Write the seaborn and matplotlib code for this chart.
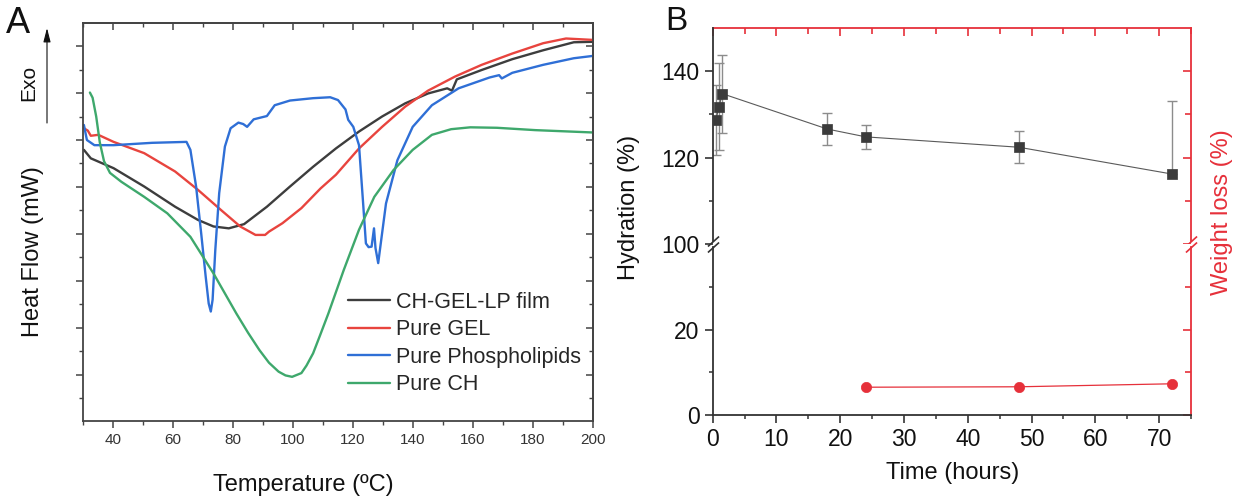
#!/usr/bin/env python3
import numpy as np
import pandas as pd
import matplotlib
matplotlib.use("Agg")
from matplotlib import pyplot as plt
from matplotlib import transforms
from matplotlib.lines import Line2D
from matplotlib.ticker import MultipleLocator
import seaborn as sns

# panel A : DSC traces (heat flow in arbitrary units, one unit per y tick)
film_T = [30.3, 32.6, 40.2, 50.4, 60.7, 68.3, 73.5, 78.6, 83.7, 91.3, 99.0, 106.7, 114.3,
          122.0, 129.7, 137.4, 145.0, 151.4, 153.0, 154.6, 162.9, 173.1, 183.4, 193.6, 200.0]
film_hf = [4.79, 4.61, 4.40, 4.01, 3.58, 3.30, 3.16, 3.12, 3.21, 3.58, 4.01, 4.43, 4.82,
           5.18, 5.50, 5.78, 5.99, 6.10, 6.05, 6.29, 6.49, 6.72, 6.91, 7.08, 7.09]

gel_T = [30.3, 31.6, 32.6, 35.1, 40.2, 50.4, 60.7, 68.3, 76.0, 82.4, 87.5, 90.7, 92.0, 96.5,
         102.8, 109.2, 114.3, 122.0, 129.7, 137.4, 145.0, 154.0, 162.9, 173.1, 183.4, 191.0, 200.0]
gel_hf = [5.25, 5.20, 5.09, 5.11, 4.96, 4.72, 4.33, 3.94, 3.51, 3.16, 2.98, 2.98, 3.05, 3.23,
          3.55, 3.97, 4.26, 4.82, 5.28, 5.71, 6.05, 6.35, 6.60, 6.84, 7.06, 7.16, 7.13]

pl_T = [30.3, 31.3, 33.8, 40.2, 53.0, 64.5, 65.8, 67.7, 69.4, 70.9, 71.9, 72.6, 73.2, 74.1,
        75.4, 77.3, 79.2, 81.8, 83.4, 84.7, 86.9, 89.4, 91.3, 93.9, 99.0, 106.7, 112.4, 115.0,
        117.5, 118.4, 120.1, 122.0, 123.3, 124.3, 125.2, 126.2, 127.0, 127.5, 128.4, 129.4,
        131.0, 134.8, 139.9, 146.3, 155.2, 165.5, 168.7, 169.6, 173.1, 183.4, 193.6, 200.0]
pl_hf = [5.32, 5.00, 4.89, 4.89, 4.94, 4.96, 4.79, 4.01, 3.01, 2.09, 1.52, 1.35, 1.60, 2.66,
         3.87, 4.86, 5.25, 5.37, 5.34, 5.28, 5.44, 5.48, 5.51, 5.74, 5.84, 5.89, 5.91, 5.85,
         5.65, 5.43, 5.28, 4.89, 3.72, 2.80, 2.72, 2.73, 3.12, 2.70, 2.38, 2.87,
         3.65, 4.57, 5.28, 5.74, 6.10, 6.33, 6.38, 6.31, 6.43, 6.60, 6.74, 6.79]

ch_T = [32.3, 33.2, 34.4, 35.6, 37.0, 39.0, 42.8, 50.4, 58.1, 65.8, 73.5, 81.1, 85.0, 88.8,
        92.0, 95.2, 97.5, 99.7, 102.8, 104.5, 106.7, 109.0, 111.8, 116.9, 122.0, 127.1, 133.5,
        139.9, 146.3, 152.7, 159.1, 168.0, 180.8, 200.0]
ch_hf = [6.01, 5.90, 5.50, 4.95, 4.55, 4.30, 4.11, 3.79, 3.44, 2.94, 2.16, 1.31, 0.90, 0.53,
         0.26, 0.07, -0.01, -0.04, 0.04, 0.20, 0.46, 0.84, 1.31, 2.23, 3.09, 3.79, 4.36,
         4.79, 5.11, 5.23, 5.27, 5.26, 5.21, 5.16]

samples = ["CH-GEL-LP film", "Pure GEL", "Pure Phospholipids", "Pure CH"]
sample_colors = ["#3d3d3d", "#e8443e", "#2f6fd6", "#3ea86c"]

# panel B : hydration and weight loss vs time
hyd_t = [0.5, 1, 1.5, 18, 24, 48, 72]
hyd = [128.7, 131.8, 134.8, 126.6, 124.8, 122.4, 116.2]
hyd_err_lo = [8.2, 10.0, 9.0, 3.7, 2.8, 3.7, 0.0]
hyd_err_hi = [8.2, 10.0, 9.0, 3.7, 2.8, 3.7, 17.0]
wl_t = [24, 48, 72]
wl = [6.5, 6.6, 7.3]

RED = "#e6303a"
W, H = 1239, 498


def box(l, t, r, b):
    return [l / W, 1 - b / H, (r - l) / W, (b - t) / H]


sns.set_theme(style="ticks")
plt.rcParams['font.family'] = ['Liberation Sans', 'DejaVu Sans']

fig = plt.figure(figsize=(W / 100, H / 100), dpi=100)

# ---------------- panel A
axA = fig.add_axes(box(83, 23, 593, 421))
dsc = pd.concat([
    pd.DataFrame({'T': film_T, 'hf': film_hf, 'sample': samples[0]}),
    pd.DataFrame({'T': gel_T, 'hf': gel_hf, 'sample': samples[1]}),
    pd.DataFrame({'T': pl_T, 'hf': pl_hf, 'sample': samples[2]}),
    pd.DataFrame({'T': ch_T, 'hf': ch_hf, 'sample': samples[3]}),
])
sns.lineplot(data=dsc, x='T', y='hf', hue='sample', hue_order=samples,
             palette=dict(zip(samples, sample_colors)), sort=False, estimator=None,
             lw=1.7, legend=False, ax=axA)
axA.set_xlim(30, 200)
axA.set_ylim(-0.98, 7.49)
axA.set_xlabel('')
axA.set_ylabel('')
axA.xaxis.set_major_locator(MultipleLocator(20))
axA.xaxis.set_minor_locator(MultipleLocator(10))
axA.yaxis.set_major_locator(MultipleLocator(1))
axA.yaxis.set_minor_locator(MultipleLocator(0.5))
axA.tick_params(which='major', direction='out', length=5, width=1.1, color='#444', labelsize=11,
                labelcolor='#333', labelleft=False)
axA.tick_params(which='minor', direction='out', length=3, width=1.0, color='#444')
for s in axA.spines.values():
    s.set_color('#444')
    s.set_linewidth(1.3)
topA = axA.secondary_xaxis('top')
topA.xaxis.set_major_locator(MultipleLocator(20))
topA.xaxis.set_minor_locator(MultipleLocator(10))
topA.tick_params(which='both', direction='in', labeltop=False, color='#444')
topA.tick_params(which='major', length=5, width=1.1)
topA.tick_params(which='minor', length=3, width=1.0)
rightA = axA.secondary_yaxis('right')
rightA.yaxis.set_major_locator(MultipleLocator(1))
rightA.yaxis.set_minor_locator(MultipleLocator(0.5))
rightA.tick_params(which='both', direction='in', labelright=False, color='#444')
rightA.tick_params(which='major', length=5, width=1.1)
rightA.tick_params(which='minor', length=3, width=1.0)
for sec in (topA, rightA):
    for s in sec.spines.values():
        s.set_color('#444')
        s.set_linewidth(1.3)

handles = [Line2D([], [], color=c, lw=1.7) for c in sample_colors]
axA.legend(handles, samples, loc='upper left', bbox_to_anchor=(348 / W, 1 - 292 / H),
           bbox_transform=fig.transFigure, frameon=False, fontsize=15.5, handlelength=1.95,
           handletextpad=0.3, labelspacing=0.3, borderpad=0, borderaxespad=0)

fig.text(303 / W, 1 - 485 / H, 'Temperature (ºC)', ha='center', va='center', fontsize=17, color='#111')
fig.text(33 / W, 1 - 252 / H, 'Heat Flow (mW)', ha='center', va='center', rotation=90,
         fontsize=17, color='#111')
fig.text(29 / W, 1 - 83 / H, 'Exo', ha='center', va='center', rotation=90, fontsize=15, color='#111')
axA.annotate('', xy=(47 / W, 1 - 28 / H), xytext=(47 / W, 1 - 123 / H), xycoords='figure fraction',
             textcoords='figure fraction', annotation_clip=False,
             arrowprops=dict(arrowstyle='-|>,head_length=0.7,head_width=0.18', color='#111', lw=0.8,
                             shrinkA=0, shrinkB=0))
fig.text(6 / W, 1 - 6 / H, 'A', ha='left', va='top', fontsize=26, color='#111')

# ---------------- panel B (broken y axis)
axU = fig.add_axes(box(712.7, 28, 1191, 244))
axL = fig.add_axes(box(712.7, 244, 1191, 415), sharex=axU)

axU.errorbar(hyd_t, hyd, yerr=[hyd_err_lo, hyd_err_hi], fmt='none', ecolor='#8c8c8c',
             elinewidth=1.0, capsize=3.5, capthick=1.0, zorder=2)
sns.lineplot(x=hyd_t, y=hyd, color='#5a5a5a', lw=0.8, estimator=None, sort=False, ax=axU, zorder=3)
sns.scatterplot(x=hyd_t, y=hyd, marker='s', s=48, color='#3b3b3b', edgecolor='#3b3b3b',
                linewidth=0.5, ax=axU, zorder=4)
sns.lineplot(x=wl_t, y=wl, color=RED, lw=0.9, estimator=None, sort=False, ax=axL, zorder=3)
sns.scatterplot(x=wl_t, y=wl, marker='o', s=55, color=RED, edgecolor=RED, linewidth=0.5,
                ax=axL, zorder=4)

axU.set_ylim(100, 150)
axL.set_ylim(0, 40)
axL.set_xlim(0, 75)
for ax in (axU, axL):
    ax.set_xlabel('')
    ax.set_ylabel('')
    ax.spines['right'].set_visible(False)
    for s in ('left', 'bottom', 'top'):
        ax.spines[s].set_color('#333')
        ax.spines[s].set_linewidth(1.3)
    ax.tick_params(which='major', direction='out', length=6, width=1.2, color='#333', labelsize=16.5,
                   labelcolor='#111')
    ax.tick_params(which='minor', direction='out', length=3, width=1.1, color='#333')
axU.spines['bottom'].set_visible(False)
axU.spines['top'].set_visible(False)
axL.spines['top'].set_visible(False)
axU.tick_params(axis='x', which='both', bottom=False, labelbottom=False)
axU.set_yticks([100, 120, 140])
axU.set_yticks([110, 130], minor=True)
axL.set_yticks([0, 20])
axL.set_yticks([10, 30], minor=True)
axL.xaxis.set_major_locator(MultipleLocator(10))
axL.xaxis.set_minor_locator(MultipleLocator(5))

# red top axis and red right axes
topB = axU.secondary_xaxis('top')
topB.xaxis.set_major_locator(MultipleLocator(10))
topB.xaxis.set_minor_locator(MultipleLocator(5))
topB.tick_params(which='both', direction='in', labeltop=False, color=RED, width=1.2)
topB.tick_params(which='major', length=6)
topB.tick_params(which='minor', length=4)
topB.spines['top'].set_color(RED)
topB.spines['top'].set_linewidth(1.3)

for ax, major, minor in ((axU, [100, 120, 140], [110, 130]), (axL, [0, 20], [10, 30])):
    r = ax.secondary_yaxis('right')
    r.set_yticks(major)
    r.set_yticks(minor, minor=True)
    r.tick_params(which='both', direction='in', labelright=False, color=RED, width=1.2)
    r.tick_params(which='major', length=6)
    r.tick_params(which='minor', length=4)
    r.spines['right'].set_color(RED)
    r.spines['right'].set_linewidth(1.3)
    if ax is axU:
        r.spines['right'].set_bounds(100.8, 150)
    else:
        r.spines['right'].set_bounds(0, 39.2)

axU.spines['left'].set_bounds(100.8, 150)
axL.spines['left'].set_bounds(0, 39.2)

# break marks on both vertical axes
for ax, yb in ((axU, 100.8), (axL, 39.2)):
    tr = transforms.blended_transform_factory(ax.transAxes, ax.transData)
    ax.plot([0], [yb], transform=tr, marker=[(-1, -0.9), (1, 0.9)], markersize=8, mew=1.2,
            color='#333', linestyle='none', clip_on=False, zorder=5)
    ax.plot([1], [yb], transform=tr, marker=[(-1, -0.9), (1, 0.9)], markersize=8, mew=1.2,
            color=RED, linestyle='none', clip_on=False, zorder=5)

fig.text(953 / W, 1 - 473 / H, 'Time (hours)', ha='center', va='center', fontsize=17, color='#111')
fig.text(629 / W, 1 - 207 / H, 'Hydration (%)', ha='center', va='center', rotation=90,
         fontsize=17, color='#111')
fig.text(1222 / W, 1 - 212 / H, 'Weight loss (%)', ha='center', va='center', rotation=90,
         fontsize=17, color=RED)
fig.text(665 / W, 1 - 6 / H, 'B', ha='left', va='top', fontsize=24, color='#111')

fig.savefig('out.png', dpi=100, facecolor='white')
